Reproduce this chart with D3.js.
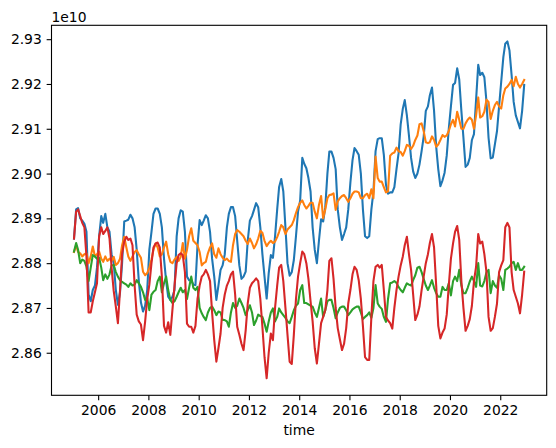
<!DOCTYPE html>
<html>
<head>
<meta charset="utf-8">
<script src="https://cdn.jsdelivr.net/npm/d3@7"></script>
<style>
  body { margin: 0; background: #fff; }
  svg text { font-family: "DejaVu Sans", sans-serif; fill: #000; }
</style>
</head>
<body>
<div id="chart"></div>
<script>
// monthly values, 2005-01 .. 2022-12, in units of 1e10
var blueValues = [
  2.8855, 2.8920, 2.8923, 2.8900, 2.8895, 2.8888, 2.8870, 2.8730, 2.8715, 2.8740, 2.8750, 2.8790,
  2.8860, 2.8905, 2.8890, 2.8910, 2.8880, 2.8870, 2.8820, 2.8800, 2.8740, 2.8707, 2.8735, 2.8800,
  2.8893, 2.8895, 2.8897, 2.8908, 2.8900, 2.8880, 2.8830, 2.8760, 2.8712, 2.8692, 2.8705, 2.8740,
  2.8830, 2.8870, 2.8910, 2.8922, 2.8922, 2.8910, 2.8880, 2.8810, 2.8760, 2.8725, 2.8718, 2.8725,
  2.8740, 2.8860, 2.8900, 2.8918, 2.8915, 2.8870, 2.8770, 2.8762, 2.8762, 2.8752, 2.8751, 2.8840,
  2.8896, 2.8885, 2.8895, 2.8907, 2.8900, 2.8870, 2.8810, 2.8770, 2.8718, 2.8750, 2.8785, 2.8795,
  2.8820, 2.8880, 2.8910, 2.8925, 2.8925, 2.8905, 2.8850, 2.8795, 2.8765, 2.8770, 2.8781, 2.8850,
  2.8895, 2.8905, 2.8919, 2.8934, 2.8925, 2.8880, 2.8820, 2.8770, 2.8721, 2.8778, 2.8818, 2.8812,
  2.8860, 2.8920, 2.8970, 2.8988, 2.8960, 2.8880, 2.8800, 2.8772, 2.8780, 2.8807, 2.8860, 2.8915,
  2.8940, 2.9035, 2.9022, 2.9012, 2.8990, 2.8960, 2.8880, 2.8830, 2.8800, 2.8850, 2.8898, 2.8893,
  2.8925, 2.9000, 2.9049, 2.9049, 2.9035, 2.9010, 2.8920, 2.8880, 2.8852, 2.8865, 2.8880, 2.8920,
  2.8980, 2.9030, 2.9057, 2.9050, 2.9042, 2.9000, 2.8920, 2.8860, 2.8856, 2.8860, 2.8920, 2.8960,
  2.9050, 2.9077, 2.9079, 2.9079, 2.9042, 2.8975, 2.8955, 2.8958, 2.8958, 2.8970, 2.9010, 2.9045,
  2.9110, 2.9145, 2.9164, 2.9130, 2.9085, 2.9035, 2.9005, 2.8990, 2.9000, 2.9020, 2.9050, 2.9082,
  2.9140, 2.9150, 2.9175, 2.9192, 2.9140, 2.9060, 2.9010, 2.8972, 2.8985, 2.9002, 2.9040, 2.9100,
  2.9150, 2.9198, 2.9202, 2.9235, 2.9210, 2.9140, 2.9080, 2.9015, 2.9020, 2.9035, 2.9075, 2.9088,
  2.9165, 2.9243, 2.9220, 2.9225, 2.9215, 2.9160, 2.9080, 2.9034, 2.9036, 2.9065, 2.9095, 2.9150,
  2.9205, 2.9260, 2.9290, 2.9295, 2.9275, 2.9220, 2.9160, 2.9130, 2.9115, 2.9101, 2.9140, 2.9198
]

var orangeValues = [
  2.8825, 2.8840, 2.8825, 2.8822, 2.8815, 2.8820, 2.8822, 2.8800, 2.8815, 2.8837, 2.8815, 2.8820,
  2.8826, 2.8810, 2.8803, 2.8815, 2.8805, 2.8810, 2.8805, 2.8814, 2.8796, 2.8800, 2.8810, 2.8840,
  2.8859, 2.8835, 2.8815, 2.8805, 2.8815, 2.8825, 2.8829, 2.8820, 2.8812, 2.8781, 2.8773, 2.8778,
  2.8790, 2.8808, 2.8830, 2.8844, 2.8835, 2.8815, 2.8820, 2.8835, 2.8848, 2.8820, 2.8803, 2.8800,
  2.8808, 2.8814, 2.8805, 2.8814, 2.8845, 2.8810, 2.8830, 2.8860, 2.8878, 2.8850, 2.8845, 2.8840,
  2.8825, 2.8795, 2.8800, 2.8803, 2.8822, 2.8835, 2.8844, 2.8820, 2.8812, 2.8833, 2.8820, 2.8812,
  2.8807, 2.8810, 2.8805, 2.8803, 2.8840, 2.8865, 2.8874, 2.8870, 2.8865, 2.8860, 2.8850, 2.8843,
  2.8855, 2.8845, 2.8833, 2.8842, 2.8855, 2.8872, 2.8868, 2.8850, 2.8838, 2.8845, 2.8850, 2.8845,
  2.8848, 2.8858, 2.8870, 2.8885, 2.8880, 2.8865, 2.8875, 2.8880, 2.8885, 2.8896, 2.8912, 2.8925,
  2.8935, 2.8940, 2.8930, 2.8922, 2.8928, 2.8935, 2.8935, 2.8915, 2.8900, 2.8930, 2.8950, 2.8900,
  2.8920, 2.8945, 2.8952, 2.8953, 2.8956, 2.8919, 2.8938, 2.8945, 2.8950, 2.8952, 2.8945, 2.8937,
  2.8945, 2.8955, 2.8960, 2.8960, 2.8958, 2.8945, 2.8945, 2.8952, 2.8955, 2.8945, 2.8965, 2.8945,
  2.9038, 2.8990, 2.8982, 2.8982, 2.8970, 2.8958, 2.8960, 2.9040, 2.9045, 2.9047, 2.9058, 2.9050,
  2.9048, 2.9040, 2.9050, 2.9064, 2.9062, 2.9055, 2.9062, 2.9075, 2.9085, 2.9110, 2.9112, 2.9095,
  2.9070, 2.9068, 2.9070, 2.9083, 2.9075, 2.9060, 2.9065, 2.9075, 2.9086, 2.9082, 2.9085, 2.9095,
  2.9110, 2.9120, 2.9105, 2.9138, 2.9120, 2.9100, 2.9100, 2.9112, 2.9120, 2.9125, 2.9120, 2.9100,
  2.9130, 2.9170, 2.9125, 2.9128, 2.9138, 2.9165, 2.9160, 2.9122, 2.9140, 2.9153, 2.9160, 2.9150,
  2.9145, 2.9175, 2.9190, 2.9194, 2.9200, 2.9209, 2.9195, 2.9216, 2.9200, 2.9192, 2.9200, 2.9209
]

var greenValues = [
  2.8826, 2.8845, 2.8830, 2.8800, 2.8808, 2.8805, 2.8792, 2.8760, 2.8790, 2.8818, 2.8815, 2.8810,
  2.8812, 2.8790, 2.8762, 2.8775, 2.8765, 2.8775, 2.8795, 2.8796, 2.8780, 2.8770, 2.8762, 2.8758,
  2.8755, 2.8752, 2.8747, 2.8755, 2.8750, 2.8752, 2.8762, 2.8755, 2.8747, 2.8735, 2.8718, 2.8722,
  2.8695, 2.8730, 2.8736, 2.8740, 2.8760, 2.8770, 2.8735, 2.8755, 2.8770, 2.8740, 2.8718, 2.8711,
  2.8715, 2.8725, 2.8735, 2.8745, 2.8735, 2.8740, 2.8720, 2.8745, 2.8770, 2.8745, 2.8740, 2.8747,
  2.8700, 2.8688, 2.8680, 2.8673, 2.8690, 2.8700, 2.8703, 2.8695, 2.8684, 2.8692, 2.8690, 2.8673,
  2.8673, 2.8670, 2.8658, 2.8690, 2.8711, 2.8700, 2.8705, 2.8721, 2.8711, 2.8700, 2.8684, 2.8695,
  2.8706, 2.8690, 2.8662, 2.8672, 2.8685, 2.8682, 2.8680, 2.8665, 2.8647, 2.8670, 2.8690, 2.8699,
  2.8670, 2.8680, 2.8699, 2.8690, 2.8684, 2.8678, 2.8670, 2.8666, 2.8680, 2.8695, 2.8705, 2.8710,
  2.8740, 2.8751, 2.8711, 2.8711, 2.8708, 2.8705, 2.8703, 2.8690, 2.8680, 2.8700, 2.8721, 2.8680,
  2.8695, 2.8715, 2.8718, 2.8718, 2.8700, 2.8677, 2.8690, 2.8700, 2.8703, 2.8703, 2.8695, 2.8684,
  2.8690, 2.8697, 2.8700, 2.8703, 2.8703, 2.8690, 2.8675, 2.8680, 2.8684, 2.8690, 2.8678, 2.8700,
  2.8751, 2.8710, 2.8703, 2.8698, 2.8680, 2.8669, 2.8720, 2.8755, 2.8757, 2.8760, 2.8756, 2.8747,
  2.8740, 2.8735, 2.8745, 2.8755, 2.8752, 2.8750, 2.8762, 2.8773, 2.8790, 2.8792, 2.8780, 2.8765,
  2.8750, 2.8740, 2.8750, 2.8762, 2.8745, 2.8733, 2.8725, 2.8725, 2.8747, 2.8740, 2.8740, 2.8755,
  2.8728, 2.8760, 2.8770, 2.8760, 2.8785, 2.8750, 2.8733, 2.8733, 2.8745, 2.8759, 2.8770, 2.8760,
  2.8747, 2.8800, 2.8750, 2.8748, 2.8760, 2.8780, 2.8785, 2.8733, 2.8760, 2.8750, 2.8745, 2.8773,
  2.8765, 2.8740, 2.8785, 2.8788, 2.8792, 2.8800, 2.8803, 2.8785, 2.8800, 2.8785, 2.8785, 2.8792
]

var redValues = [
  2.8855, 2.8915, 2.8920, 2.8905, 2.8890, 2.8880, 2.8815, 2.8690, 2.8690, 2.8715, 2.8735, 2.8755,
  2.8860, 2.8880, 2.8865, 2.8872, 2.8880, 2.8855, 2.8790, 2.8738, 2.8703, 2.8666, 2.8740, 2.8820,
  2.8848, 2.8859, 2.8852, 2.8855, 2.8840, 2.8750, 2.8685, 2.8670, 2.8663, 2.8628, 2.8670, 2.8720,
  2.8752, 2.8800, 2.8835, 2.8844, 2.8846, 2.8835, 2.8770, 2.8660, 2.8645, 2.8668, 2.8640, 2.8695,
  2.8750, 2.8800, 2.8818, 2.8822, 2.8818, 2.8780, 2.8665, 2.8658, 2.8658, 2.8645, 2.8660, 2.8720,
  2.8750, 2.8770, 2.8775, 2.8785, 2.8775, 2.8760, 2.8690, 2.8628, 2.8580, 2.8610, 2.8643, 2.8700,
  2.8730, 2.8750, 2.8760, 2.8775, 2.8781, 2.8730, 2.8658, 2.8640, 2.8620, 2.8606, 2.8650, 2.8710,
  2.8745, 2.8755, 2.8760, 2.8766, 2.8760, 2.8720, 2.8658, 2.8590, 2.8543, 2.8600, 2.8643, 2.8628,
  2.8700, 2.8750, 2.8790, 2.8796, 2.8760, 2.8700, 2.8640, 2.8580, 2.8575, 2.8640, 2.8720, 2.8770,
  2.8800, 2.8826, 2.8820, 2.8800, 2.8765, 2.8715, 2.8670, 2.8610, 2.8576, 2.8620, 2.8666, 2.8680,
  2.8695, 2.8740, 2.8805, 2.8811, 2.8765, 2.8700, 2.8655, 2.8630, 2.8606, 2.8620, 2.8655, 2.8710,
  2.8740, 2.8775, 2.8792, 2.8785, 2.8762, 2.8720, 2.8660, 2.8590, 2.8584, 2.8584, 2.8680, 2.8760,
  2.8792, 2.8796, 2.8790, 2.8796, 2.8740, 2.8680, 2.8672, 2.8666, 2.8654, 2.8700, 2.8740, 2.8770,
  2.8795, 2.8815, 2.8840, 2.8859, 2.8820, 2.8785, 2.8730, 2.8673, 2.8685, 2.8703, 2.8740, 2.8770,
  2.8800, 2.8820, 2.8845, 2.8865, 2.8835, 2.8750, 2.8660, 2.8632, 2.8645, 2.8654, 2.8685, 2.8750,
  2.8810, 2.8844, 2.8870, 2.8883, 2.8852, 2.8760, 2.8700, 2.8649, 2.8660, 2.8675, 2.8705, 2.8760,
  2.8792, 2.8865, 2.8844, 2.8848, 2.8820, 2.8780, 2.8680, 2.8649, 2.8655, 2.8680, 2.8710, 2.8780,
  2.8795, 2.8807, 2.8880, 2.8890, 2.8880, 2.8780, 2.8740, 2.8725, 2.8710, 2.8688, 2.8730, 2.8781
]

var seriesColors = ['#1f77b4', '#ff7f0e', '#2ca02c', '#d62728']
var yTickValues = [2.86, 2.87, 2.88, 2.89, 2.90, 2.91, 2.92, 2.93]

var width = 556,
    height = 448,
    margin = { top: 25.3, right: 9.3, bottom: 52.7, left: 51.5 },
    fontSize = 13.89,
    tickLen = 4.86

// mid-month dates for each value
var dates = blueValues.map(function(d, i) {
  return new Date(2005, i, 15)
})
var allSeries = [blueValues, orangeValues, greenValues, redValues]

// matplotlib style 5% padding on both axes
var t0 = dates[0].getTime(), t1 = dates[dates.length - 1].getTime()
var tpad = (t1 - t0) * 0.05
var x = d3.scaleTime()
    .domain([new Date(t0 - tpad), new Date(t1 + tpad)])
    .range([margin.left, width - margin.right])

var y = d3.scaleLinear()
    .domain([2.8505, 2.9331])
    .range([height - margin.bottom, margin.top])

var svg = d3.select('#chart').append('svg')
    .attr('width', width)
    .attr('height', height)

svg.append('defs').append('clipPath')
    .attr('id', 'plot-clip')
    .append('rect')
    .attr('x', margin.left)
    .attr('y', margin.top)
    .attr('width', width - margin.left - margin.right)
    .attr('height', height - margin.top - margin.bottom)

var line = d3.line()
    .x(function(d, i) { return x(dates[i]) })
    .y(function(d) { return y(d) })

svg.append('g')
    .attr('clip-path', 'url(#plot-clip)')
    .selectAll('path')
    .data(allSeries)
    .enter().append('path')
        .attr('d', line)
        .attr('fill', 'none')
        .attr('stroke', function(d, i) { return seriesColors[i] })
        .attr('stroke-width', 2.08)
        .attr('stroke-linejoin', 'round')
        .attr('stroke-linecap', 'square')

// axes
var xAxis = svg.append('g')
    .attr('transform', 'translate(0,' + (height - margin.bottom) + ')')
    .call(d3.axisBottom(x)
        .ticks(d3.timeYear.every(2))
        .tickFormat(d3.timeFormat('%Y'))
        .tickSize(tickLen)
        .tickSizeOuter(0)
        .tickPadding(tickLen))

var yAxis = svg.append('g')
    .attr('transform', 'translate(' + margin.left + ',0)')
    .call(d3.axisLeft(y)
        .tickValues(yTickValues)
        .tickFormat(d3.format('.2f'))
        .tickSize(tickLen)
        .tickSizeOuter(0)
        .tickPadding(tickLen))

svg.selectAll('.domain').remove()
svg.selectAll('.tick line').attr('stroke', '#000').attr('stroke-width', 1.1)
svg.selectAll('.tick text')
    .attr('font-family', '"DejaVu Sans", sans-serif')
    .attr('font-size', fontSize)
    .attr('fill', '#000')

// frame
svg.append('rect')
    .attr('x', margin.left)
    .attr('y', margin.top)
    .attr('width', width - margin.left - margin.right)
    .attr('height', height - margin.top - margin.bottom)
    .attr('fill', 'none')
    .attr('stroke', '#000')
    .attr('stroke-width', 1.1)

// offset text and x label
svg.append('text')
    .attr('x', margin.left)
    .attr('y', 21.5)
    .attr('font-size', fontSize)
    .text('1e10')

svg.append('text')
    .attr('x', (margin.left + width - margin.right) / 2)
    .attr('y', 435)
    .attr('text-anchor', 'middle')
    .attr('font-size', fontSize)
    .text('time')
</script>
</body>
</html>
